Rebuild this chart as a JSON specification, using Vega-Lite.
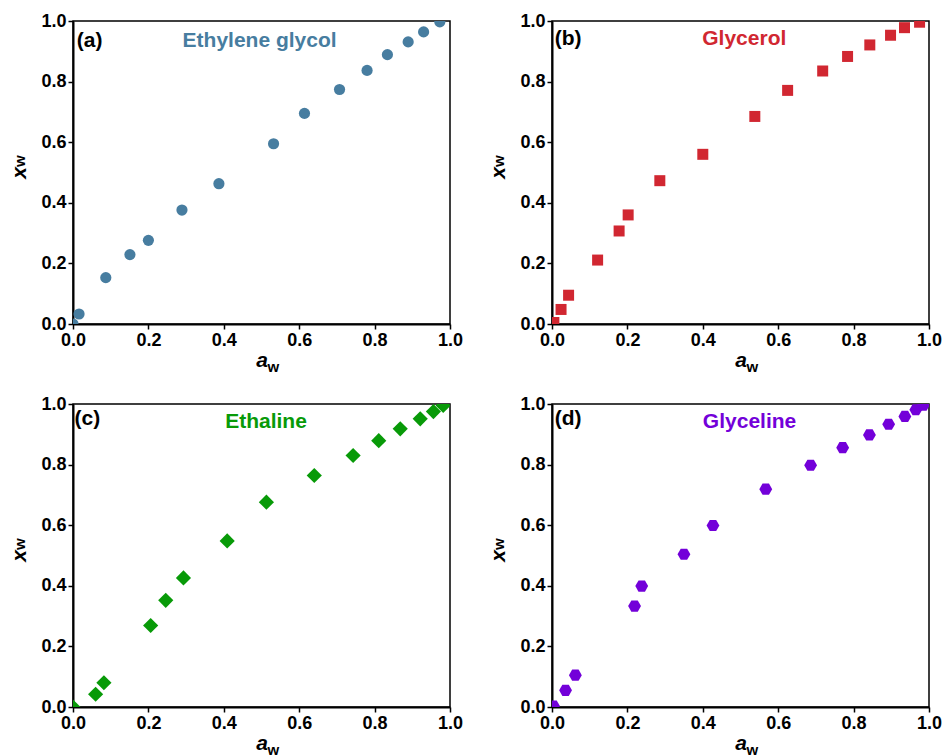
{
  "$schema": "https://vega.github.io/schema/vega-lite/v6.json",
  "background": "white",
  "padding": {"left": 8, "top": 11, "right": 5, "bottom": 5},
  "bounds": "flush",
  "columns": 2,
  "spacing": {"row": 80, "column": 102},
  "config": {
    "view": {"stroke": "black", "strokeWidth": 1.5},
    "font": "Liberation Sans",
    "axis": {
      "grid": false,
      "labelFlush": false,
      "domainColor": "black",
      "domainWidth": 2,
      "tickColor": "black",
      "tickWidth": 1.5,
      "labelFont": "Liberation Sans",
      "labelFontSize": 18,
      "labelFontWeight": "bold",
      "labelColor": "black",
      "labelPadding": 2,
      "titleFont": "Liberation Sans",
      "titleFontSize": 21,
      "titleFontWeight": "bold",
      "titleFontStyle": "italic",
      "titleColor": "black"
    },
    "text": {"font": "Liberation Sans", "fontWeight": "bold"}
  },
  "datasets": {
    "eg": [
      {"aw": 0.0, "xw": 0.0}, {"aw": 0.016, "xw": 0.033}, {"aw": 0.087, "xw": 0.153}, {"aw": 0.151, "xw": 0.229},
      {"aw": 0.2, "xw": 0.276}, {"aw": 0.289, "xw": 0.376}, {"aw": 0.387, "xw": 0.463}, {"aw": 0.532, "xw": 0.595},
      {"aw": 0.614, "xw": 0.695}, {"aw": 0.707, "xw": 0.774}, {"aw": 0.78, "xw": 0.837}, {"aw": 0.834, "xw": 0.889},
      {"aw": 0.889, "xw": 0.931}, {"aw": 0.93, "xw": 0.964}, {"aw": 0.973, "xw": 0.997}
    ],
    "gly": [
      {"aw": 0.005, "xw": 0.005}, {"aw": 0.024, "xw": 0.048}, {"aw": 0.044, "xw": 0.095}, {"aw": 0.121, "xw": 0.211},
      {"aw": 0.178, "xw": 0.307}, {"aw": 0.202, "xw": 0.36}, {"aw": 0.286, "xw": 0.473}, {"aw": 0.4, "xw": 0.56},
      {"aw": 0.538, "xw": 0.685}, {"aw": 0.625, "xw": 0.771}, {"aw": 0.718, "xw": 0.835}, {"aw": 0.784, "xw": 0.883},
      {"aw": 0.843, "xw": 0.921}, {"aw": 0.898, "xw": 0.953}, {"aw": 0.935, "xw": 0.978}, {"aw": 0.975, "xw": 0.996}
    ],
    "eth": [
      {"aw": 0.0, "xw": 0.0}, {"aw": 0.06, "xw": 0.042}, {"aw": 0.082, "xw": 0.08}, {"aw": 0.206, "xw": 0.269},
      {"aw": 0.246, "xw": 0.352}, {"aw": 0.293, "xw": 0.426}, {"aw": 0.409, "xw": 0.548}, {"aw": 0.513, "xw": 0.676},
      {"aw": 0.64, "xw": 0.764}, {"aw": 0.743, "xw": 0.83}, {"aw": 0.811, "xw": 0.879}, {"aw": 0.868, "xw": 0.918},
      {"aw": 0.921, "xw": 0.951}, {"aw": 0.956, "xw": 0.975}, {"aw": 0.982, "xw": 0.995}
    ],
    "glc": [
      {"aw": 0.004, "xw": 0.003}, {"aw": 0.036, "xw": 0.055}, {"aw": 0.062, "xw": 0.105}, {"aw": 0.219, "xw": 0.333},
      {"aw": 0.238, "xw": 0.399}, {"aw": 0.35, "xw": 0.504}, {"aw": 0.427, "xw": 0.599}, {"aw": 0.567, "xw": 0.719},
      {"aw": 0.686, "xw": 0.798}, {"aw": 0.771, "xw": 0.856}, {"aw": 0.842, "xw": 0.898}, {"aw": 0.893, "xw": 0.933},
      {"aw": 0.936, "xw": 0.959}, {"aw": 0.965, "xw": 0.981}, {"aw": 0.985, "xw": 0.996}
    ]
  },
  "concat": [
    {
      "width": 377, "height": 303,
      "layer": [
        {
          "data": {"name": "eg"},
          "mark": {"type": "point", "shape": "circle", "filled": true, "size": 125, "color": "#477da0", "opacity": 1, "clip": true},
          "encoding": {
            "x": {"field": "aw", "type": "quantitative", "scale": {"domain": [0, 1], "nice": false},
              "axis": {"title": "a", "values": [0, 0.1, 0.2, 0.3, 0.4, 0.5, 0.6, 0.7, 0.8, 0.9, 1], "labelExpr": "round(datum.value*10) % 2 == 0 ? format(datum.value, '.1f') : ''", "tickSize": {"condition": {"test": "round(datum.value*10) % 2 == 0", "value": 5}, "value": 3}, "titlePadding": 0}},
            "y": {"field": "xw", "type": "quantitative", "scale": {"domain": [0, 1], "nice": false},
              "axis": {"title": "x", "values": [0, 0.1, 0.2, 0.3, 0.4, 0.5, 0.6, 0.7, 0.8, 0.9, 1], "labelExpr": "round(datum.value*10) % 2 == 0 ? format(datum.value, '.1f') : ''", "tickSize": {"condition": {"test": "round(datum.value*10) % 2 == 0", "value": 5}, "value": 3}, "titlePadding": 11}}
          }
        },
        {
          "data": {"values": [{"t": "(a)", "aw": 0.01, "xw": 0.935}]},
          "mark": {"type": "text", "align": "left", "baseline": "middle", "fontSize": 21, "color": "black"},
          "encoding": {"x": {"field": "aw", "type": "quantitative"}, "y": {"field": "xw", "type": "quantitative"}, "text": {"field": "t"}}
        },
        {
          "data": {"values": [{"t": "Ethylene glycol", "aw": 0.495, "xw": 0.935}]},
          "mark": {"type": "text", "align": "center", "baseline": "middle", "fontSize": 21, "color": "#477da0"},
          "encoding": {"x": {"field": "aw", "type": "quantitative"}, "y": {"field": "xw", "type": "quantitative"}, "text": {"field": "t"}}
        },
        {
          "data": {"values": [{"t": "w", "aw": 0.516, "xw": -0.158}]},
          "mark": {"type": "text", "align": "left", "baseline": "alphabetic", "fontSize": 15, "color": "black"},
          "encoding": {"x": {"field": "aw", "type": "quantitative"}, "y": {"field": "xw", "type": "quantitative"}, "text": {"field": "t"}}
        },
        {
          "data": {"values": [{"t": "w", "aw": -0.128, "xw": 0.518}]},
          "mark": {"type": "text", "align": "left", "baseline": "alphabetic", "angle": 270, "fontSize": 15, "color": "black"},
          "encoding": {"x": {"field": "aw", "type": "quantitative"}, "y": {"field": "xw", "type": "quantitative"}, "text": {"field": "t"}}
        }
      ]
    },
    {
      "width": 377, "height": 303,
      "layer": [
        {
          "data": {"name": "gly"},
          "mark": {"type": "point", "shape": "square", "filled": true, "size": 121, "color": "#d12731", "opacity": 1, "clip": true},
          "encoding": {
            "x": {"field": "aw", "type": "quantitative", "scale": {"domain": [0, 1], "nice": false},
              "axis": {"title": "a", "values": [0, 0.1, 0.2, 0.3, 0.4, 0.5, 0.6, 0.7, 0.8, 0.9, 1], "labelExpr": "round(datum.value*10) % 2 == 0 ? format(datum.value, '.1f') : ''", "tickSize": {"condition": {"test": "round(datum.value*10) % 2 == 0", "value": 5}, "value": 3}, "titlePadding": 0}},
            "y": {"field": "xw", "type": "quantitative", "scale": {"domain": [0, 1], "nice": false},
              "axis": {"title": "x", "values": [0, 0.1, 0.2, 0.3, 0.4, 0.5, 0.6, 0.7, 0.8, 0.9, 1], "labelExpr": "round(datum.value*10) % 2 == 0 ? format(datum.value, '.1f') : ''", "tickSize": {"condition": {"test": "round(datum.value*10) % 2 == 0", "value": 5}, "value": 3}, "titlePadding": 11}}
          }
        },
        {
          "data": {"values": [{"t": "(b)", "aw": 0.007, "xw": 0.94}]},
          "mark": {"type": "text", "align": "left", "baseline": "middle", "fontSize": 21, "color": "black"},
          "encoding": {"x": {"field": "aw", "type": "quantitative"}, "y": {"field": "xw", "type": "quantitative"}, "text": {"field": "t"}}
        },
        {
          "data": {"values": [{"t": "Glycerol", "aw": 0.51, "xw": 0.94}]},
          "mark": {"type": "text", "align": "center", "baseline": "middle", "fontSize": 21, "color": "#d12731"},
          "encoding": {"x": {"field": "aw", "type": "quantitative"}, "y": {"field": "xw", "type": "quantitative"}, "text": {"field": "t"}}
        },
        {
          "data": {"values": [{"t": "w", "aw": 0.516, "xw": -0.158}]},
          "mark": {"type": "text", "align": "left", "baseline": "alphabetic", "fontSize": 15, "color": "black"},
          "encoding": {"x": {"field": "aw", "type": "quantitative"}, "y": {"field": "xw", "type": "quantitative"}, "text": {"field": "t"}}
        },
        {
          "data": {"values": [{"t": "w", "aw": -0.128, "xw": 0.518}]},
          "mark": {"type": "text", "align": "left", "baseline": "alphabetic", "angle": 270, "fontSize": 15, "color": "black"},
          "encoding": {"x": {"field": "aw", "type": "quantitative"}, "y": {"field": "xw", "type": "quantitative"}, "text": {"field": "t"}}
        }
      ]
    },
    {
      "width": 377, "height": 303,
      "layer": [
        {
          "data": {"name": "eth"},
          "mark": {"type": "point", "shape": "diamond", "filled": true, "size": 230, "color": "#089a08", "opacity": 1, "clip": true},
          "encoding": {
            "x": {"field": "aw", "type": "quantitative", "scale": {"domain": [0, 1], "nice": false},
              "axis": {"title": "a", "values": [0, 0.1, 0.2, 0.3, 0.4, 0.5, 0.6, 0.7, 0.8, 0.9, 1], "labelExpr": "round(datum.value*10) % 2 == 0 ? format(datum.value, '.1f') : ''", "tickSize": {"condition": {"test": "round(datum.value*10) % 2 == 0", "value": 5}, "value": 3}, "titlePadding": 0}},
            "y": {"field": "xw", "type": "quantitative", "scale": {"domain": [0, 1], "nice": false},
              "axis": {"title": "x", "values": [0, 0.1, 0.2, 0.3, 0.4, 0.5, 0.6, 0.7, 0.8, 0.9, 1], "labelExpr": "round(datum.value*10) % 2 == 0 ? format(datum.value, '.1f') : ''", "tickSize": {"condition": {"test": "round(datum.value*10) % 2 == 0", "value": 5}, "value": 3}, "titlePadding": 11}}
          }
        },
        {
          "data": {"values": [{"t": "(c)", "aw": 0.004, "xw": 0.95}]},
          "mark": {"type": "text", "align": "left", "baseline": "middle", "fontSize": 21, "color": "black"},
          "encoding": {"x": {"field": "aw", "type": "quantitative"}, "y": {"field": "xw", "type": "quantitative"}, "text": {"field": "t"}}
        },
        {
          "data": {"values": [{"t": "Ethaline", "aw": 0.512, "xw": 0.94}]},
          "mark": {"type": "text", "align": "center", "baseline": "middle", "fontSize": 21, "color": "#089a08"},
          "encoding": {"x": {"field": "aw", "type": "quantitative"}, "y": {"field": "xw", "type": "quantitative"}, "text": {"field": "t"}}
        },
        {
          "data": {"values": [{"t": "w", "aw": 0.516, "xw": -0.158}]},
          "mark": {"type": "text", "align": "left", "baseline": "alphabetic", "fontSize": 15, "color": "black"},
          "encoding": {"x": {"field": "aw", "type": "quantitative"}, "y": {"field": "xw", "type": "quantitative"}, "text": {"field": "t"}}
        },
        {
          "data": {"values": [{"t": "w", "aw": -0.128, "xw": 0.518}]},
          "mark": {"type": "text", "align": "left", "baseline": "alphabetic", "angle": 270, "fontSize": 15, "color": "black"},
          "encoding": {"x": {"field": "aw", "type": "quantitative"}, "y": {"field": "xw", "type": "quantitative"}, "text": {"field": "t"}}
        }
      ]
    },
    {
      "width": 377, "height": 303,
      "layer": [
        {
          "data": {"name": "glc"},
          "mark": {"type": "point", "shape": "M-1,0L-0.5,-0.866L0.5,-0.866L1,0L0.5,0.866L-0.5,0.866Z", "filled": true, "size": 165, "color": "#7300d9", "opacity": 1, "clip": true},
          "encoding": {
            "x": {"field": "aw", "type": "quantitative", "scale": {"domain": [0, 1], "nice": false},
              "axis": {"title": "a", "values": [0, 0.1, 0.2, 0.3, 0.4, 0.5, 0.6, 0.7, 0.8, 0.9, 1], "labelExpr": "round(datum.value*10) % 2 == 0 ? format(datum.value, '.1f') : ''", "tickSize": {"condition": {"test": "round(datum.value*10) % 2 == 0", "value": 5}, "value": 3}, "titlePadding": 0}},
            "y": {"field": "xw", "type": "quantitative", "scale": {"domain": [0, 1], "nice": false},
              "axis": {"title": "x", "values": [0, 0.1, 0.2, 0.3, 0.4, 0.5, 0.6, 0.7, 0.8, 0.9, 1], "labelExpr": "round(datum.value*10) % 2 == 0 ? format(datum.value, '.1f') : ''", "tickSize": {"condition": {"test": "round(datum.value*10) % 2 == 0", "value": 5}, "value": 3}, "titlePadding": 11}}
          }
        },
        {
          "data": {"values": [{"t": "(d)", "aw": 0.007, "xw": 0.95}]},
          "mark": {"type": "text", "align": "left", "baseline": "middle", "fontSize": 21, "color": "black"},
          "encoding": {"x": {"field": "aw", "type": "quantitative"}, "y": {"field": "xw", "type": "quantitative"}, "text": {"field": "t"}}
        },
        {
          "data": {"values": [{"t": "Glyceline", "aw": 0.524, "xw": 0.94}]},
          "mark": {"type": "text", "align": "center", "baseline": "middle", "fontSize": 21, "color": "#7300d9"},
          "encoding": {"x": {"field": "aw", "type": "quantitative"}, "y": {"field": "xw", "type": "quantitative"}, "text": {"field": "t"}}
        },
        {
          "data": {"values": [{"t": "w", "aw": 0.516, "xw": -0.158}]},
          "mark": {"type": "text", "align": "left", "baseline": "alphabetic", "fontSize": 15, "color": "black"},
          "encoding": {"x": {"field": "aw", "type": "quantitative"}, "y": {"field": "xw", "type": "quantitative"}, "text": {"field": "t"}}
        },
        {
          "data": {"values": [{"t": "w", "aw": -0.128, "xw": 0.518}]},
          "mark": {"type": "text", "align": "left", "baseline": "alphabetic", "angle": 270, "fontSize": 15, "color": "black"},
          "encoding": {"x": {"field": "aw", "type": "quantitative"}, "y": {"field": "xw", "type": "quantitative"}, "text": {"field": "t"}}
        }
      ]
    }
  ]
}
